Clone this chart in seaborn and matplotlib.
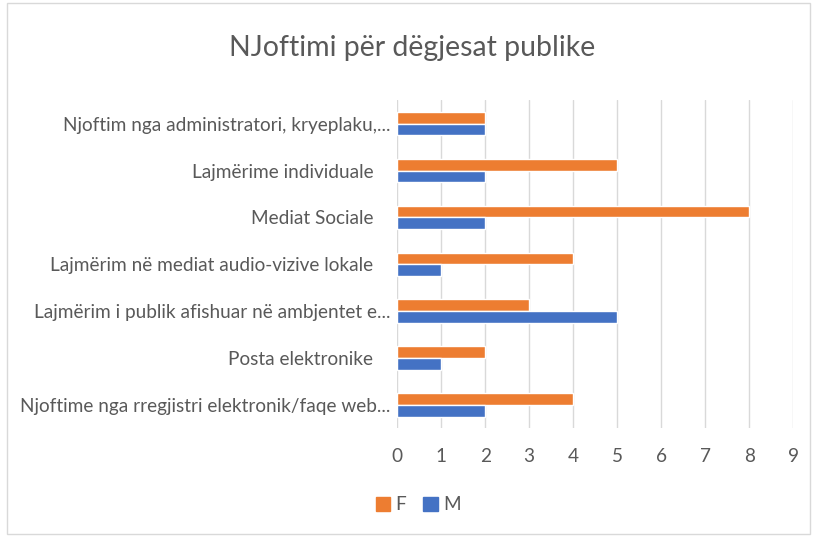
import pandas as pd
import seaborn as sns
import matplotlib.pyplot as plt
import matplotlib.transforms as mtransforms
from matplotlib.patches import Patch, Rectangle

# data, top to bottom
kategorite = ['Njoftim nga administratori, kryeplaku,...',
              'Lajmërime individuale',
              'Mediat Sociale',
              'Lajmërim në mediat audio-vizive lokale',
              'Lajmërim i publik afishuar në ambjentet e...',
              'Posta elektronike',
              'Njoftime nga rregjistri elektronik/faqe web...']
vlera_F = [2, 5, 8, 4, 3, 2, 4]
vlera_M = [2, 2, 2, 1, 5, 1, 2]
gjinia = ['F', 'M']
ngjyrat = {'F': '#ED7D31', 'M': '#4472C4'}

df = pd.DataFrame({'Kategoria': kategorite * 2,
                   'Gjinia': ['F'] * len(kategorite) + ['M'] * len(kategorite),
                   'Vlera': vlera_F + vlera_M})

sns.set_style('white')
plt.rcParams['font.family'] = ['Lato', 'DejaVu Sans']
gri = '#595959'

fig = plt.figure(figsize=(8.17, 5.36), dpi=100)
ax = fig.add_axes([0.486, 0.201, 0.485, 0.612])

sns.barplot(data=df, y='Kategoria', x='Vlera', hue='Gjinia', hue_order=gjinia,
            order=kategorite, palette=ngjyrat, orient='h', width=0.5,
            saturation=1, ax=ax, legend=False)

ax.set_xlim(0, 9)
ax.set_xticks(range(0, 10))
ax.grid(axis='x', color='#D9D9D9', linewidth=1)
ax.set_axisbelow(True)
for s in ax.spines.values():
    s.set_visible(False)
ax.set_xlabel('')
ax.set_ylabel('')
ax.tick_params(axis='x', length=0, pad=14, labelsize=13.7, labelcolor=gri)
ax.tick_params(axis='y', length=0, pad=5, labelsize=13.7, labelcolor=gri)

# labels that are not cut off sit a bit further from the axis
shift = mtransforms.ScaledTranslation(-12 / 72, 0, fig.dpi_scale_trans)
for lbl in ax.get_yticklabels():
    if not lbl.get_text().endswith('...'):
        lbl.set_transform(lbl.get_transform() + shift)

fig.suptitle('NJoftimi për dëgjesat publike', x=0.505, y=0.935, fontsize=20.5, color=gri)

handles = [Patch(color=ngjyrat[g], label=g) for g in gjinia]
fig.legend(handles=handles, loc='center', bbox_to_anchor=(0.512, 0.058), ncol=2,
           frameon=False, fontsize=13.7, labelcolor=gri, handlelength=0.75, handleheight=0.75,
           handletextpad=0.3, columnspacing=0.9)

# light frame round the chart area
fig.patches.append(Rectangle((0.009, 0.004), 0.982, 0.99, transform=fig.transFigure,
                             fill=False, edgecolor='#D9D9D9', linewidth=1))

fig.savefig('out.png', dpi=100)
